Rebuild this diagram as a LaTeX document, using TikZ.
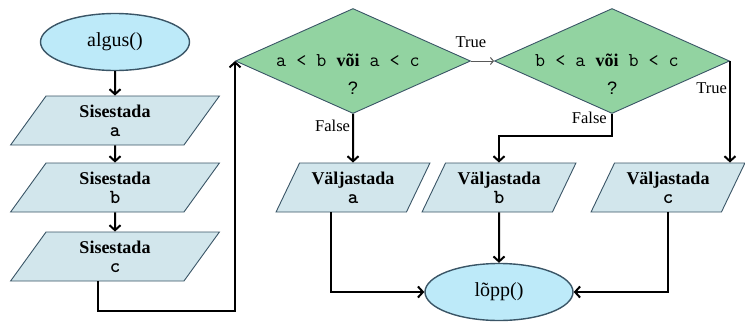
\documentclass[tikz,border=0pt]{standalone}
\usepackage{fontspec}
\setmainfont{Liberation Serif}
\setsansfont{Liberation Sans}
\usetikzlibrary{shapes.geometric, positioning, arrows, arrows.meta, calc}
\definecolor{termfill}{HTML}{BDEAF9}
\definecolor{iofill}{HTML}{D2E6EC}
\definecolor{condfill}{HTML}{92D3A1}
\definecolor{borderclr}{HTML}{3A5566}
\newcommand{\var}[1]{{\fontsize{20}{19}\selectfont\ttfamily\bfseries #1}}

\begin{document}
\begin{tikzpicture}[x=1pt,y=-1pt,
    term/.style={ellipse, draw=borderclr, line width=1.4pt, fill=termfill,
        minimum width=149pt, minimum height=57pt, inner sep=0pt,
        font=\fontsize{20}{22}\selectfont},
    io/.style={trapezium, trapezium left angle=60, trapezium right angle=120,
        trapezium stretches=true, draw=borderclr, line width=0.9pt, fill=iofill,
        minimum height=49pt, inner sep=0pt, align=center,
        font=\fontsize{18}{19}\selectfont},
    cond/.style={diamond, aspect=2.24, draw=borderclr, line width=0.9pt,
        fill=condfill, minimum width=235pt, minimum height=105pt, inner sep=0pt},
    condtxt/.style={inner sep=0pt, font=\fontsize{19.5}{20}\selectfont\ttfamily},
    lbl/.style={inner sep=2pt, font=\fontsize{16.5}{18}\selectfont},
    flow/.style={-{Straight Barb[length=5pt,width=11pt,line width=2pt]}, line width=2pt},
    thinflow/.style={-{Straight Barb[length=3pt,width=7pt]}, line width=1pt, draw=black!65}]
\useasboundingbox (0,0) rectangle (745,322);

% left column: input
\node[term] (start) at (115,42) {algus()};
\node[io, minimum width=209pt] (in1) at (115,120.5) {\textbf{Sisestada}\\\var{a}};
\node[io, minimum width=209pt] (in2) at (115,187.5) {\textbf{Sisestada}\\\var{b}};
\node[io, minimum width=209pt] (in3) at (115,256.5) {\textbf{Sisestada}\\\var{c}};

% conditions
\node[cond] (q1) at (353,61) {};
\node[cond] (q2) at (612,61) {};
\node[condtxt, anchor=base] (q1txt) at (348,66) {a < b \textrm{\bfseries\fontsize{18}{19}\selectfont või} a < c};
\node[condtxt, anchor=base] (q2txt) at (607,66) {b < a \textrm{\bfseries\fontsize{18}{19}\selectfont või} b < c};
\node[inner sep=0pt, font=\fontsize{18}{19}\selectfont\sffamily] (q1mark) at (353,88) {?};
\node[inner sep=0pt, font=\fontsize{18}{19}\selectfont\sffamily] (q2mark) at (612,88) {?};

% output
\node[io, minimum width=154pt] (outa) at (353,187.5) {\textbf{Väljastada}\\\var{a}};
\node[io, minimum width=154pt] (outb) at (499,187.5) {\textbf{Väljastada}\\\var{b}};
\node[io, minimum width=154pt] (outc) at (668,187.5) {\textbf{Väljastada}\\\var{c}};
\node[term, minimum width=148pt] (ende) at (499,292) {lõpp()};

\path[flow]
    (start) edge (in1)
    (in1) edge (in2)
    (in2) edge (in3)
    (q1) edge node[lbl, left, pos=0.25] (f1) {False} (outa)
    (outb) edge (ende)
    ;

\draw[flow] ([xshift=-17pt]in3.south) -- ++(0,30) -| (q1.west);
\draw[thinflow] (q1.east) -- node[lbl, pos=0, above=11pt] (t1) {True} (q2.west);
\draw[flow] (q2.south) -- ++(0,22) -| (outb.north);
\node[lbl, anchor=east] (f2) at ([xshift=-3pt, yshift=-4pt]q2.south) {False};
\draw[flow] (q2.east) -- node[lbl, left, pos=0.27] (t2) {True} (q2.east |- outc.north);
\draw[flow] ([xshift=-22pt]outa.south) |- (ende.west);
\draw[flow] (outc.south) |- (ende.east);
\end{tikzpicture}
\end{document}
